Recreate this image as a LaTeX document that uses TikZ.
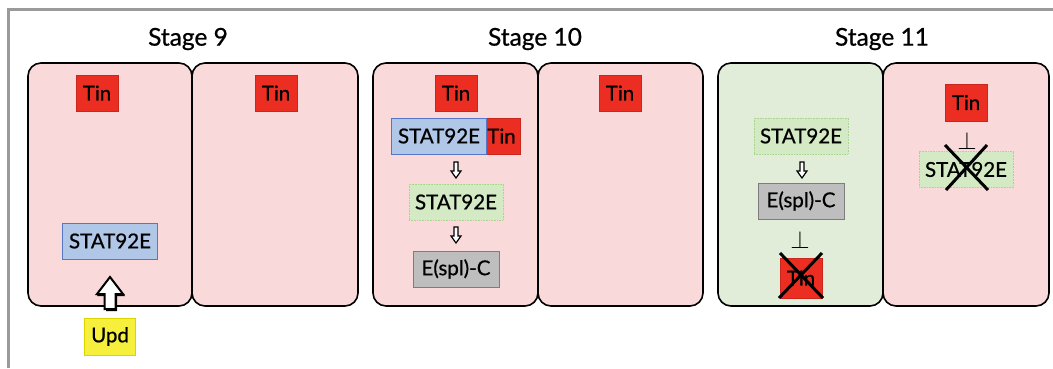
\documentclass[tikz,border=0pt]{standalone}
\usepackage{fontspec}
\setmainfont{Lato}[FakeBold=0.7]
\definecolor{cellpink}{HTML}{F9D9D9}
\definecolor{cellgreen}{HTML}{E1EDD8}
\definecolor{tinred}{HTML}{EC2D22}
\definecolor{statblue}{HTML}{B1C7E8}
\definecolor{statblueb}{HTML}{5577C6}
\definecolor{statgreen}{HTML}{D4EAC4}
\definecolor{statgreenb}{HTML}{A9D68E}
\definecolor{esplgray}{HTML}{BEBEBE}
\definecolor{esplgrayb}{HTML}{7D7D7D}
\definecolor{updyellow}{HTML}{F6F03C}
\definecolor{updyellowb}{HTML}{DCD400}
\definecolor{framegray}{HTML}{9A9A9A}
\tikzset{
  cellbox/.style={draw=black, line width=1.6pt, rounded corners=13pt, minimum height=243, inner sep=0pt},
  pinkcell/.style={cellbox, fill=cellpink},
  greencell/.style={cellbox, fill=cellgreen},
  lbl/.style={font=\fontsize{20.5}{22}\selectfont, inner sep=0pt, minimum height=36},
  tinbox/.style={lbl, fill=tinred, draw=tinred!85!black, line width=0.4pt, minimum width=42},
  bluebox/.style={lbl, fill=statblue, draw=statblueb, line width=0.8pt, minimum width=95},
  greenbox/.style={lbl, fill=statgreen, draw=statgreenb, line width=0.6pt, densely dotted, minimum width=94},
  graybox/.style={lbl, fill=esplgray, draw=esplgrayb, line width=0.8pt, minimum width=86},
  yellowbox/.style={lbl, fill=updyellow, draw=updyellowb, line width=0.6pt, minimum width=51, minimum height=37},
  stagetitle/.style={font=\fontsize{24.5}{26}\selectfont, inner sep=0pt},
  inhib/.style={font=\fontsize{24}{24}\selectfont, inner sep=0pt},
  crossline/.style={line width=3pt, black},
  hdown/.pic={\draw[line width=1.2pt, fill=white] (-2,-8) -- (2,-8) -- (2,1) -- (5,1) -- (0,8) -- (-5,1) -- (-2,1) -- cycle;},
  hup/.pic={
    \fill[black] (-4,18) -- (7,18) -- (7,3) -- (15,3) -- (1,-15) -- (-13,3) -- (-4,3) -- cycle;
    \draw[line width=2pt, fill=white] (-5.5,16) -- (5.5,16) -- (5.5,1) -- (13,1) -- (0,-16) -- (-13,1) -- (-5.5,1) -- cycle;}
}
\begin{document}
\begin{tikzpicture}[x=1pt, y=-1pt]
\useasboundingbox (0,0) rectangle (1053,368);
\fill[white] (0,0) rectangle (1053,368);
\draw[framegray, line width=3pt] (8,368) -- (8,9) -- (1053,9);

% stage titles
\node[stagetitle] (st9) at (188,39) {Stage 9};
\node[stagetitle] (st10) at (535,39) {Stage 10};
\node[stagetitle] (st11) at (882,39) {Stage 11};

% cells
\node[pinkcell, minimum width=164] (c1) at (110,184.5) {};
\node[pinkcell, minimum width=166] (c2) at (275,184.5) {};
\node[pinkcell, minimum width=165] (c3) at (455.5,184.5) {};
\node[pinkcell, minimum width=165] (c4) at (620.5,184.5) {};
\node[greencell, minimum width=165] (c5) at (800.5,184.5) {};
\node[pinkcell, minimum width=166] (c6) at (966,184.5) {};

% Stage 9
\node[tinbox] (t1) at (97,93) {Tin};
\node[tinbox] (t2) at (276,93) {Tin};
\node[bluebox] (s9) at (110,241) {STAT92E};
\node[yellowbox] (upd) at (110,336.5) {Upd};
\pic at (110,293) {hup};

% Stage 10
\node[tinbox] (t3) at (456,93) {Tin};
\node[tinbox, minimum width=46] (t3b) at (497,136) {\hspace*{9pt}Tin};
\node[bluebox] (s10a) at (439,136) {STAT92E};
\node[greenbox] (s10b) at (456,202) {STAT92E};
\node[graybox] (e10) at (456,269) {E(spl)-C};
\pic at (456,170) {hdown};
\pic at (456,235) {hdown};
\node[tinbox] (t4) at (620,93) {Tin};

% Stage 11 left cell
\node[greenbox] (s11) at (801,136) {STAT92E};
\pic at (802,170) {hdown};
\node[graybox] (e11) at (801,201) {E(spl)-C};
\node[inhib] (i11a) at (800,240) {$\perp$};
\node[tinbox, minimum height=40] (t5) at (801,278) {Tin};
\draw[crossline] (780,253) -- (823,298);
\draw[crossline] (822,253) -- (779,298);

% Stage 11 right cell
\node[tinbox, minimum height=37] (t6) at (966,102.5) {Tin};
\node[inhib] (i11b) at (967,141) {$\perp$};
\node[greenbox] (s11b) at (966,169.5) {STAT92E};
\draw[crossline] (945,145) -- (988,190);
\draw[crossline] (987,145) -- (946,190);
\end{tikzpicture}
\end{document}
